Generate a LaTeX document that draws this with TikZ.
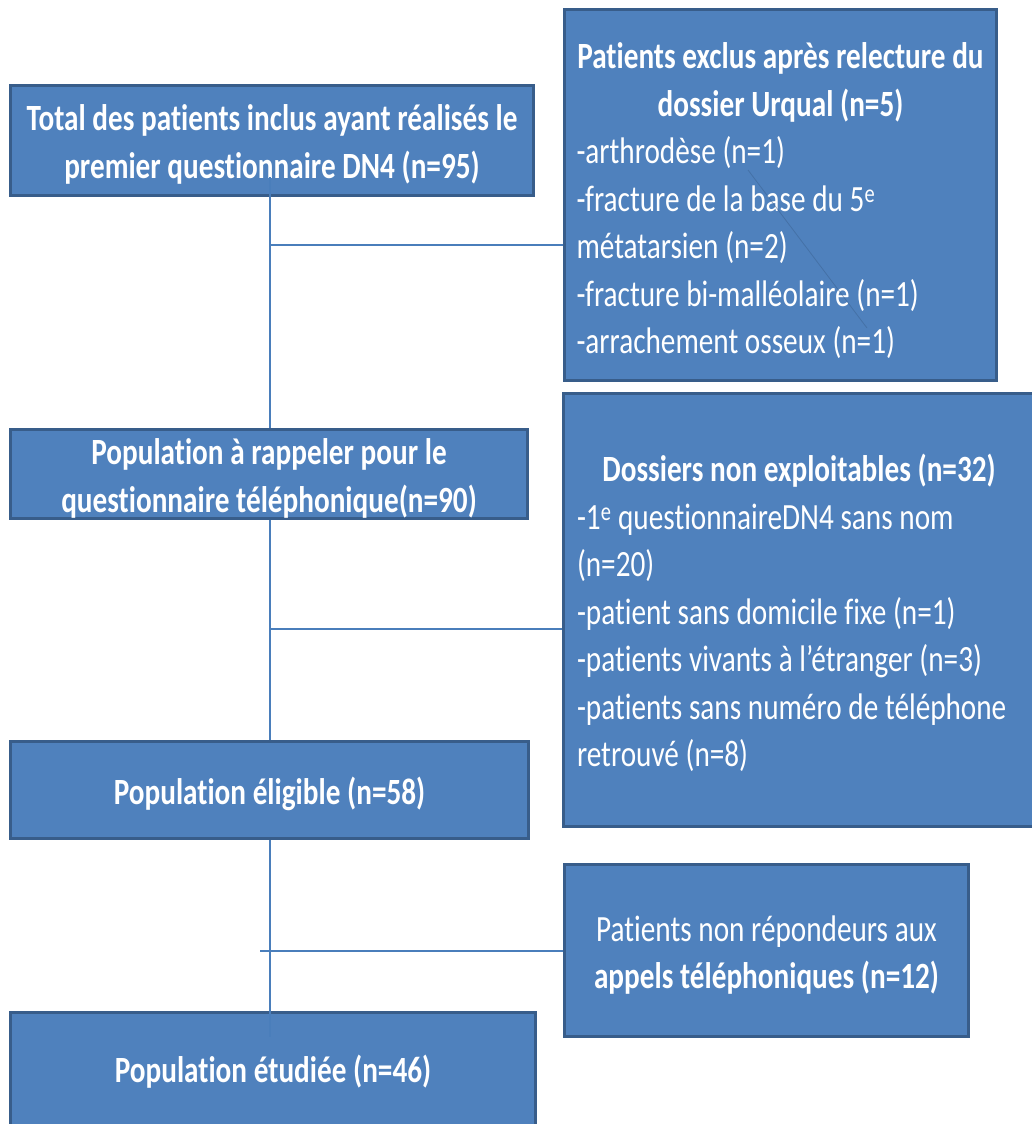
\documentclass[tikz,border=0pt]{standalone}
\usepackage{fontspec}
\setmainfont[FakeStretch=0.79, Ligatures=NoCommon]{Carlito}
\definecolor{boxblue}{HTML}{4F81BD}
\definecolor{boxedge}{HTML}{385D8A}
\definecolor{linkblue}{HTML}{4A7EBB}
\newcommand{\serre}{\spaceskip=6.7pt\relax\xspaceskip=6.7pt\relax}
\newcommand{\titreligne}[2][\linewidth]{\makebox[#1][c]{\bfseries #2}}
\hyphenpenalty=10000
\exhyphenpenalty=10000

\begin{document}
\begin{tikzpicture}[x=1pt, y=-1pt,
    boite/.style={draw=boxedge, fill=boxblue, line width=3pt, inner sep=0pt, text height=35pt,
        text=white, font=\fontsize{37}{47.5}\selectfont},
    lien/.style={draw=linkblue, line width=1.6pt}]
    \useasboundingbox (0,0) rectangle (1032,1124);
    \clip (0,0) rectangle (1032,1124);

    % Colonne de gauche
    \node[boite, minimum width=523, minimum height=110, text width=515, align=center] (total) at (272,140)
        {\serre\bfseries Total des patients inclus ayant réalisés le\\ premier questionnaire DN4 (n=95)};
    \node[boite, minimum width=517, minimum height=85, text width=500, align=center] (rappel) at (269,474)
        {\serre\bfseries Population à rappeler pour le\\ questionnaire téléphonique(n=90)};
    \node[boite, minimum width=518, minimum height=97, text width=500, align=center] (eligible) at (269.5,790)
        {\serre\bfseries Population éligible (n=58)};
    \node[boite, minimum width=525, minimum height=118, text width=500, align=center, text height=28pt] (etudiee) at (273,1071)
        {\serre\bfseries Population étudiée (n=46)};

    % Colonne de droite
    \node[boite, minimum width=432, minimum height=371, text width=408, align=left, text height=38pt] (exclus) at (780.5,195)
        {\serre\titreligne{Patients exclus après relecture du}\\
         \titreligne{dossier Urqual (n=5)}\\
         -arthrodèse (n=1)\\
         -fracture de la base du 5\textsuperscript{e}\\
         métatarsien (n=2)\\
         -fracture bi-malléolaire (n=1)\\
         -arrachement osseux (n=1)};
    \node[boite, minimum width=490, minimum height=433, text width=462, align=left, text height=34pt] (dossiers) at (808,610)
        {\serre\titreligne[444pt]{Dossiers non exploitables (n=32)}\\
         -1\textsuperscript{e} questionnaireDN4 sans nom\\
         (n=20)\\
         -patient sans domicile fixe (n=1)\\
         -patients vivants à l’étranger (n=3)\\
         -patients sans numéro de téléphone\\
         retrouvé (n=8)};
    \node[boite, minimum width=404, minimum height=172, text width=400, align=center] (repondeurs) at (766.5,950.5)
        {\serre Patients non répondeurs aux\\ \bfseries appels téléphoniques (n=12)};

    % Trait parasite
    \coordinate (trait1) at (748,170);
    \coordinate (trait2) at (867,328);
    \draw[boxedge, line width=0.8pt, opacity=0.45] (trait1) -- (trait2);

    % Tronc vertical
    \coordinate (haut) at (270,177);
    \coordinate (bas) at (270,1037);
    \draw[lien] (haut) -- (haut |- rappel.north);
    \draw[lien] (haut |- rappel.south) -- (haut |- eligible.north);
    \draw[lien] (haut |- eligible.south) -- (bas);

    % Branches
    \coordinate (branche1) at (270,245);
    \coordinate (branche2) at (270,629);
    \coordinate (branche3) at (260,951);
    \draw[lien] (branche1) -- (branche1 -| exclus.west);
    \draw[lien] (branche2) -- (branche2 -| dossiers.west);
    \draw[lien] (branche3) -- (branche3 -| repondeurs.west);
\end{tikzpicture}
\end{document}
